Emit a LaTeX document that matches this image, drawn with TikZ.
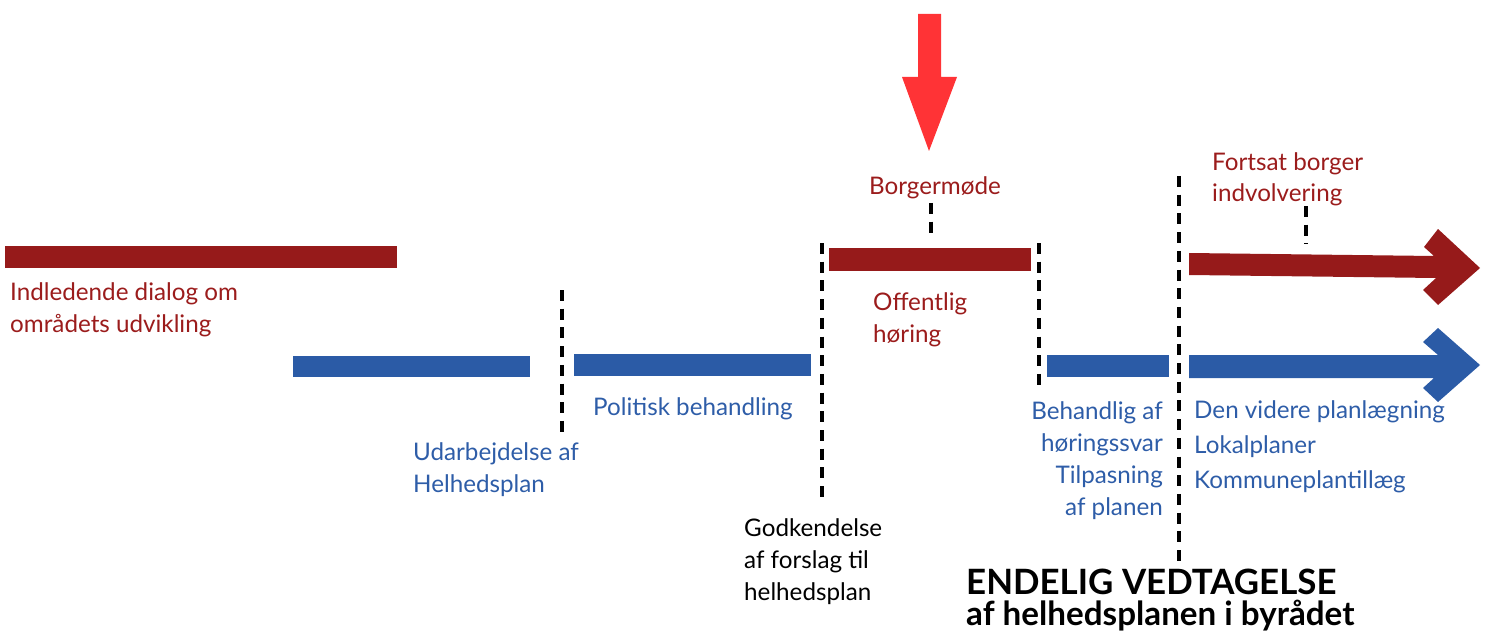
\documentclass[tikz,border=0pt]{standalone}
\usepackage{fontspec}
\setmainfont{Lato}
\usetikzlibrary{positioning}
\definecolor{barred}{RGB}{150,26,26}
\definecolor{barblue}{RGB}{43,91,166}
\definecolor{txtred}{RGB}{155,28,28}
\definecolor{txtblue}{RGB}{46,93,168}
\definecolor{alarmred}{RGB}{255,51,54}

\begin{document}
\begin{tikzpicture}[x=1bp,y=-1bp,
  lbl/.style={inner sep=0pt,font=\fontsize{24.3}{32}\selectfont,align=left},
  tick/.style={line width=4bp,dash pattern=on 11bp off 7.7bp}]
  \useasboundingbox (0,0) rectangle (1487,635);

  % bars
  \fill[barred] (5,246) rectangle (397,268);
  \fill[barred] (829,248) rectangle (1031,271);
  \fill[barblue] (293,356) rectangle (530,377);
  \fill[barblue] (574,354) rectangle (811,376);
  \fill[barblue] (1047,355) rectangle (1169,377);

  % arrows
  \fill[alarmred] (918,14)--(941,14)--(941,77)--(957,77)--(929,151)--(902,77)--(918,77)--cycle;
  \fill[barred] (1189,253)--(1434,256)--(1424,247)--(1438,229)--(1480,268)
    --(1438,305)--(1423,290)--(1436,278)--(1189,275)--cycle;
  \fill[barblue] (1189,355)--(1438,355)--(1423,342)--(1438,328)--(1480,365)
    --(1438,402)--(1423,388)--(1434,378)--(1189,378)--cycle;

  % dashed markers
  \draw[tick] (562,290)--(562,433);
  \draw[tick] (822,243)--(822,497);
  \draw[tick] (1039,243)--(1039,385);
  \draw[tick] (1179,176)--(1179,562);

  % labels (base = last line)
  \node[lbl,txtred,anchor=base west] (indl) at (10,332) {Indledende dialog om\\områdets udvikling};
  \node[lbl,txtblue,anchor=base west] (udarb) at (413,492) {Udarbejdelse af\\Helhedsplan};
  \node[lbl,txtblue,anchor=base west] (polit) at (593,415) {Politisk behandling};
  \node[lbl,anchor=base west] (godk) at (744,600) {Godkendelse\\af forslag til\\helhedsplan};
  \node[lbl,txtred,anchor=base] (borger) at (935,195) {Borgermøde};
  \node[lbl,txtred,anchor=base west] (offent) at (873,342) {Offentlig\\høring};
  \node[lbl,txtblue,anchor=base east,align=right] (behandl) at (1163,515) {Behandlig af\\høringssvar\\Tilpasning\\af planen};
  \node[lbl,txtred,anchor=base west] (fortsat) at (1212,202) {Fortsat borger\\indvolvering};
  \node[lbl,txtblue,anchor=base west,font=\fontsize{24.3}{35}\selectfont] (videre) at (1194,488) {Den videre planlægning\\Lokalplaner\\Kommuneplantillæg};
  \node[lbl,anchor=base west,font=\fontsize{35}{34}\bfseries] (endelig) at (966,594) {ENDELIG VEDTAGELSE};
  \node[lbl,anchor=base west,font=\fontsize{33.3}{34}\bfseries] (byraad) at (966,625) {af helhedsplanen i byrådet};

  % ticks to the bars
  \draw[tick] (931,203) -- (931,240);
  \draw[tick] (1306,206) -- (1306,244);
\end{tikzpicture}
\end{document}
